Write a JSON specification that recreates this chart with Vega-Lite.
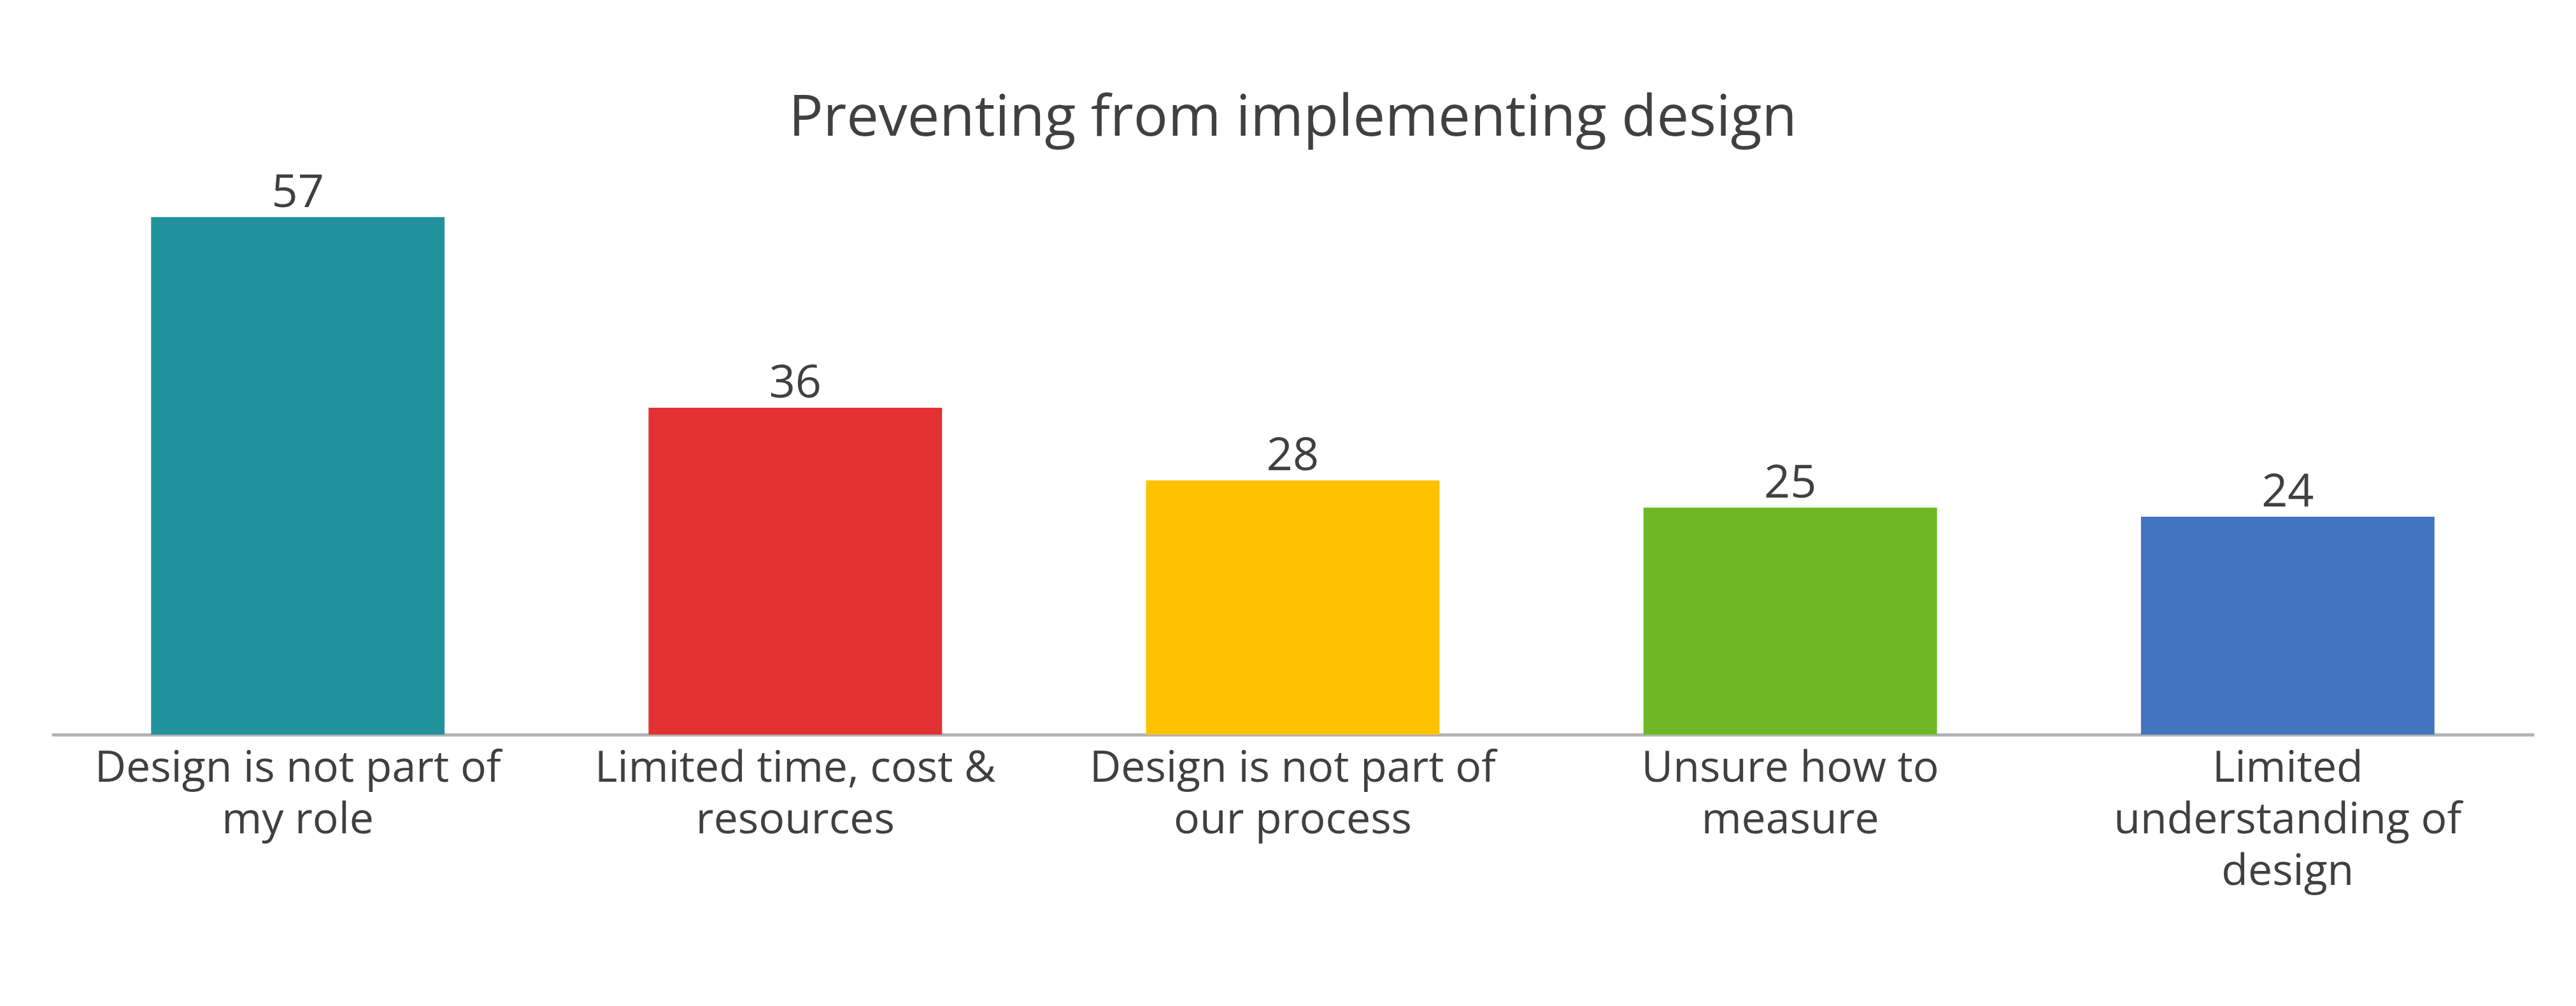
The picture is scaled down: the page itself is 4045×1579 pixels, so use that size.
{
  "$schema": "https://vega.github.io/schema/vega-lite/v6.json",
  "autosize": {"type": "none"},
  "padding": {"left": 81, "top": 298, "right": 66, "bottom": 426},
  "width": 3898,
  "height": 855,
  "background": "#ffffff",
  "title": {
    "text": "Preventing from implementing design",
    "font": "Open Sans",
    "fontSize": 90,
    "fontWeight": "normal",
    "color": "#404040",
    "anchor": "middle",
    "baseline": "alphabetic",
    "offset": -36
  },
  "data": {
    "values": [
      {"reason": "Design is not part of\nmy role", "count": 57, "order": 1},
      {"reason": "Limited time, cost &\nresources", "count": 36, "order": 2},
      {"reason": "Design is not part of\nour process", "count": 28, "order": 3},
      {"reason": "Unsure how to\nmeasure", "count": 25, "order": 4},
      {"reason": "Limited\nunderstanding of\ndesign", "count": 24, "order": 5}
    ]
  },
  "encoding": {
    "x": {
      "field": "reason",
      "type": "nominal",
      "sort": {"field": "order"},
      "scale": {"paddingInner": 0.41, "paddingOuter": 0.2},
      "axis": {
        "title": null,
        "labelExpr": "split(datum.label, '\\n')",
        "labelAngle": 0,
        "labelFont": "Open Sans",
        "labelFontSize": 68,
        "labelColor": "#404040",
        "labelLineHeight": 81,
        "labelPadding": 19,
        "labelLimit": 0,
        "ticks": false,
        "domainColor": "#b3b3b3",
        "domainWidth": 5,
        "labelOverlap": false
      }
    },
    "y": {
      "field": "count",
      "type": "quantitative",
      "scale": {"domain": [0, 60], "nice": false},
      "axis": null
    }
  },
  "layer": [
    {
      "mark": {"type": "bar"},
      "encoding": {
        "color": {
          "field": "reason",
          "type": "nominal",
          "sort": {"field": "order"},
          "scale": {"range": ["#21929b", "#e33133", "#ffc200", "#6db823", "#4374c1"]},
          "legend": null
        }
      }
    },
    {
      "mark": {
        "type": "text",
        "baseline": "alphabetic",
        "dy": -16,
        "font": "Open Sans",
        "fontSize": 72,
        "color": "#404040"
      },
      "encoding": {
        "text": {"field": "count", "type": "quantitative"}
      }
    }
  ],
  "config": {"view": {"stroke": null}}
}
